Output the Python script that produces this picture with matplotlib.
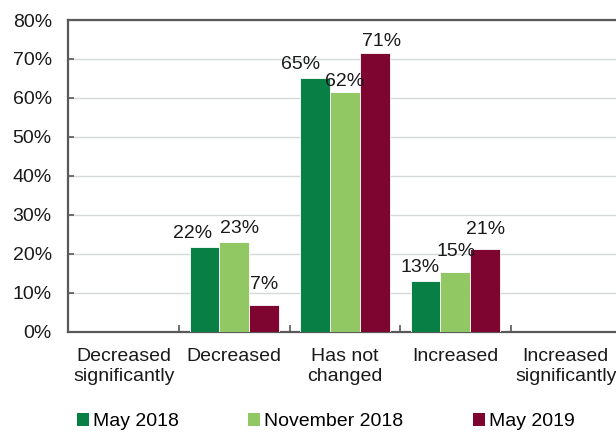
import numpy as np
import matplotlib.pyplot as plt
from matplotlib.patches import Patch

plt.rcParams['font.family'] = ['Liberation Sans', 'DejaVu Sans']
plt.rcParams['font.size'] = 14

categories = ['Decreased\nsignificantly', 'Decreased', 'Has not\nchanged', 'Increased', 'Increased\nsignificantly']
series = ['May 2018', 'November 2018', 'May 2019']
may18 = [np.nan, 21.7, 65.2, 12.9, np.nan]
nov18 = [np.nan, 23.0, 61.5, 15.2, np.nan]
may19 = [np.nan, 6.9, 71.4, 21.3, np.nan]
values = [may18, nov18, may19]
colors = ['#077f45', '#92c864', '#7d0530']

# small nudges (pixels) so crowded labels don't collide
nudge = {(0, 1): (-12, 0), (1, 1): (5, 0), (2, 1): (0, 7),
         (0, 2): (-14, 0), (1, 2): (0, -3), (2, 2): (7, -2),
         (0, 3): (-5, 0), (1, 3): (1, 7), (2, 3): (0, 6)}

fig = plt.figure(figsize=(6.16, 4.32), dpi=100)
ax = fig.add_axes([0.1112, 0.2326, 0.897, 0.7211])

x = np.arange(len(categories))
w = 0.27
for i, (vals, c) in enumerate(zip(values, colors)):
    pos = x + (i - 1) * w
    ax.bar(pos, vals, w, color=c, edgecolor='white', linewidth=0.6, zorder=3)
    for j, v in enumerate(vals):
        if np.isnan(v):
            continue
        dx, dy = nudge.get((i, j), (0, 0))
        ax.annotate(f'{v:.0f}%', (pos[j], v), xytext=(dx, 5 + dy),
                    textcoords='offset pixels', ha='center', va='bottom',
                    fontsize=14, color='#1a1a1a', zorder=4)

ax.set_xlim(-0.5, 4.5)
ax.set_ylim(0, 80)
ax.set_yticks(np.arange(0, 81, 10))
ax.set_yticklabels([f'{t}%' for t in range(0, 81, 10)])
ax.yaxis.grid(True, color='#d6d9d9', linewidth=1.0, zorder=0)

ax.set_xticks(x)
ax.set_xticklabels(categories)
ax.set_xticks(np.arange(0.5, 4.0, 1.0), minor=True)
ax.tick_params(axis='x', which='major', length=0, pad=12, colors='#1a1a1a')
ax.tick_params(axis='x', which='minor', direction='in', length=5, width=1.2, color='#595959')
ax.tick_params(axis='y', direction='in', length=4, width=1.2, color='#595959', pad=12,
               labelcolor='#1a1a1a')

for s in ['left', 'bottom', 'top']:
    ax.spines[s].set_color('#595959')
    ax.spines[s].set_linewidth(1.6)
ax.spines['right'].set_visible(False)

handles = [Patch(facecolor=c, edgecolor='none') for c in colors]
fig.legend(handles, series, loc='center left', bbox_to_anchor=(77 / 616, 0.024),
           ncol=3, frameon=False, fontsize=14, borderpad=0, borderaxespad=0,
           handlelength=0.62, handleheight=0.62, handletextpad=0.18, columnspacing=3.6)

plt.savefig('out.png', dpi=100)
